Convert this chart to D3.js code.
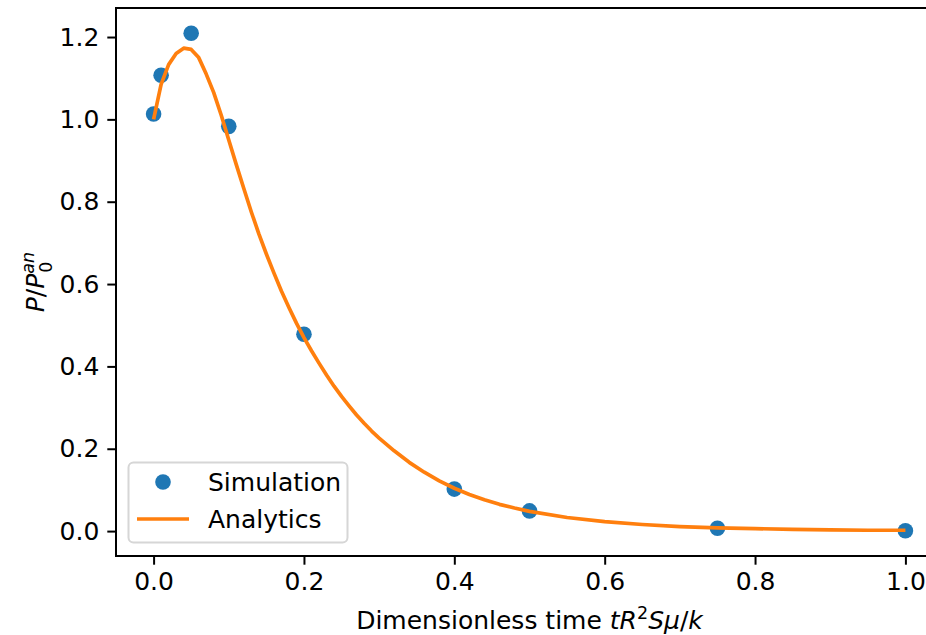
<!DOCTYPE html>
<html>
<head>
<meta charset="utf-8">
<script src="https://cdn.jsdelivr.net/npm/d3@7"></script>
<style>
  body { margin: 0; background: #fff; }
  svg { display: block; font-family: "DejaVu Sans", sans-serif; }
</style>
</head>
<body>
<svg></svg>
<script>
// simulation points
var simT = [0, 0.01, 0.05, 0.1, 0.2, 0.4, 0.5, 0.75, 1.0];
var simP = [1.013, 1.107, 1.209, 0.983, 0.478, 0.102, 0.049, 0.007, 0.001];

// analytic curve
var anT = [0, 0.01, 0.02, 0.03, 0.04, 0.05, 0.06, 0.07, 0.08, 0.09,
  0.10, 0.11, 0.12, 0.13, 0.14, 0.15, 0.16, 0.17, 0.18, 0.19,
  0.20, 0.21, 0.22, 0.23, 0.24, 0.25, 0.26, 0.27, 0.28, 0.29, 0.30,
  0.32, 0.34, 0.36, 0.38, 0.40, 0.42, 0.44, 0.46, 0.48, 0.50,
  0.55, 0.60, 0.65, 0.70, 0.75, 0.80, 0.85, 0.90, 0.95, 1.00];
var anP = [1.000, 1.085, 1.133, 1.160, 1.173, 1.170, 1.150, 1.110, 1.065, 1.010,
  0.950, 0.890, 0.832, 0.775, 0.722, 0.673, 0.627, 0.583, 0.543, 0.505,
  0.470, 0.438, 0.408, 0.379, 0.352, 0.327, 0.304, 0.282, 0.262, 0.243, 0.226,
  0.195, 0.167, 0.143, 0.122, 0.104, 0.089, 0.076, 0.065, 0.056, 0.048,
  0.033, 0.023, 0.016, 0.011, 0.008, 0.006, 0.004, 0.003, 0.002, 0.002];

var xTicks = [0, 0.2, 0.4, 0.6, 0.8, 1.0];
var yTicks = [0, 0.2, 0.4, 0.6, 0.8, 1.0, 1.2];

var width = 926, height = 635;
var pLeft = 116, pTop = 8, pRight = 943, pBottom = 556;
var fs = 25;

var svg = d3.select("svg")
    .attr("width", width)
    .attr("height", height);

var x = d3.scaleLinear().domain([-0.05, 1.05]).range([pLeft, pRight]);
var y = d3.scaleLinear().domain([-0.0605, 1.2705]).range([pBottom, pTop]);

// axes
var xAxis = svg.append("g")
    .attr("transform", "translate(0," + pBottom + ")")
    .call(d3.axisBottom(x).tickValues(xTicks).tickFormat(d3.format(".1f")).tickSizeOuter(0).tickSize(8.7).tickPadding(8));
var yAxis = svg.append("g")
    .attr("transform", "translate(" + pLeft + ",0)")
    .call(d3.axisLeft(y).tickValues(yTicks).tickFormat(d3.format(".1f")).tickSizeOuter(0).tickSize(8.7).tickPadding(8));

[xAxis, yAxis].forEach(function(g) {
  g.select(".domain").remove();
  g.selectAll("line").attr("stroke", "#000").attr("stroke-width", 2);
  g.selectAll("text").attr("fill", "#000").style("font-size", fs + "px")
   .style("font-family", "DejaVu Sans");
});

// frame
svg.append("rect")
    .attr("x", pLeft).attr("y", pTop)
    .attr("width", pRight - pLeft).attr("height", pBottom - pTop)
    .attr("fill", "none").attr("stroke", "#000").attr("stroke-width", 2);

var line = d3.line()
    .x(function(d, i) { return x(anT[i]); })
    .y(function(d) { return y(d); });

// simulation dots
svg.append("g").selectAll("circle")
    .data(simP)
    .enter().append("circle")
    .attr("cx", function(d, i) { return x(simT[i]); })
    .attr("cy", function(d) { return y(d); })
    .attr("r", 7.8)
    .attr("fill", "#1f77b4");

// analytic line, on top of the dots like in the reference
svg.append("path")
    .datum(anP)
    .attr("d", line)
    .attr("fill", "none")
    .attr("stroke", "#ff7f0e")
    .attr("stroke-width", 3.7)
    .attr("stroke-linejoin", "round");

// legend
var lg = svg.append("g");
lg.append("rect")
    .attr("x", 128.5).attr("y", 462.5)
    .attr("width", 219).attr("height", 80)
    .attr("rx", 5)
    .attr("fill", "#fff").attr("fill-opacity", 0.8)
    .attr("stroke", "#d6d6d6").attr("stroke-width", 2);
lg.append("circle")
    .attr("cx", 163).attr("cy", 482).attr("r", 7.8).attr("fill", "#1f77b4");
lg.append("line")
    .attr("x1", 137).attr("x2", 189).attr("y1", 519).attr("y2", 519)
    .attr("stroke", "#ff7f0e").attr("stroke-width", 3.7);
lg.append("text").attr("x", 208).attr("y", 491).style("font-size", fs + "px").text("Simulation");
lg.append("text").attr("x", 208).attr("y", 528).style("font-size", fs + "px").text("Analytics");

// x label
var xl = svg.append("text")
    .attr("x", (pLeft + pRight) / 2)
    .attr("y", 629)
    .attr("text-anchor", "middle")
    .style("font-size", fs + "px");
xl.append("tspan").text("Dimensionless time ");
xl.append("tspan").style("font-style", "italic").text("tR");
xl.append("tspan").attr("dy", -10).style("font-size", (fs * 0.7) + "px").text("2");
xl.append("tspan").attr("dy", 10).style("font-style", "italic").text("S\u03bc");
xl.append("tspan").text("/");
xl.append("tspan").style("font-style", "italic").text("k");

// y label
var yl = svg.append("text")
    .attr("transform", "translate(44," + ((pTop + pBottom) / 2) + ") rotate(-90)")
    .attr("text-anchor", "middle")
    .style("font-size", fs + "px");
yl.append("tspan").style("font-style", "italic").text("P");
yl.append("tspan").text("/");
yl.append("tspan").style("font-style", "italic").text("P");
yl.append("tspan").attr("dy", -10).style("font-size", (fs * 0.7) + "px").style("font-style", "italic").text("an");
yl.append("tspan").attr("dx", -21).attr("dy", 18).style("font-size", (fs * 0.7) + "px").text("0");
</script>
</body>
</html>
